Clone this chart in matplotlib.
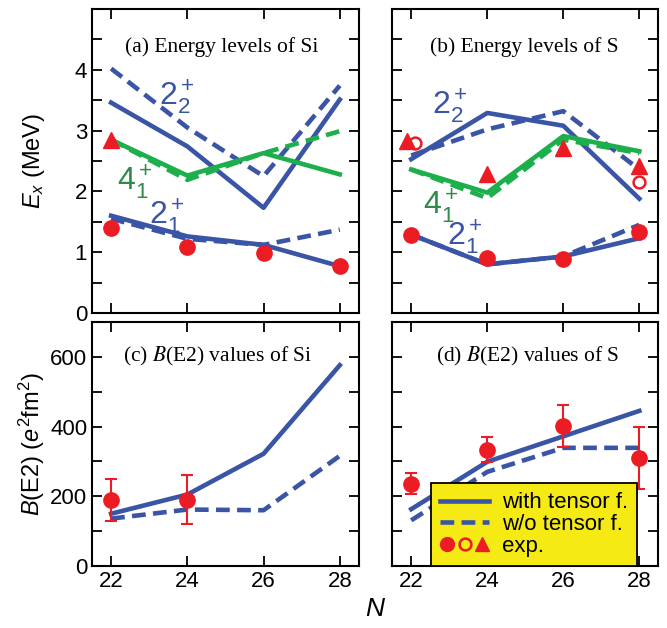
import matplotlib
matplotlib.use("Agg")
import matplotlib.pyplot as plt
from matplotlib.lines import Line2D
from matplotlib.legend_handler import HandlerTuple

N = [22, 24, 26, 28]

# (a) Si energy levels (MeV)
si_22_with = [3.46, 2.74, 1.73, 3.51]
si_22_wo = [4.02, 3.05, 2.25, 3.74]
si_41_with = [2.85, 2.26, 2.63, 2.28]
si_41_wo = [2.85, 2.19, 2.63, 2.99]
si_21_with = [1.60, 1.26, 1.12, 0.77]
si_21_wo = [1.55, 1.22, 1.12, 1.37]
si_21_exp = [1.40, 1.09, 0.98, 0.77]
si_41_exp_N = [22]
si_41_exp = [2.85]

# (b) S energy levels (MeV)
s_22_with = [2.53, 3.29, 3.08, 1.88]
s_22_wo = [2.59, 3.02, 3.32, 2.36]
s_41_with = [2.36, 1.98, 2.91, 2.66]
s_41_wo = [2.36, 1.89, 2.85, 2.63]
s_21_with = [1.29, 0.80, 0.93, 1.23]
s_21_wo = [1.29, 0.80, 0.93, 1.45]
s_21_exp = [1.29, 0.91, 0.89, 1.33]
s_41_exp_N = [21.9, 24, 26, 28]
s_41_exp = [2.83, 2.28, 2.72, 2.41]
s_22_exp_N = [22.1, 28]
s_22_exp = [2.80, 2.15]

# (c) Si B(E2) (e^2 fm^2)
si_be2_with = [150, 205, 322, 576]
si_be2_wo = [136, 162, 160, 316]
si_be2_exp_N = [22, 24]
si_be2_exp = [190, 190]
si_be2_err = [60, 70]

# (d) S B(E2)
s_be2_with = [163, 299, 372, 445]
s_be2_wo = [131, 270, 339, 339]
s_be2_exp = [236, 334, 401, 310]
s_be2_err = [30, 36, 60, 90]

blue = "#3A55A5"
green = "#1DAF4B"
green_txt = "#2E8B4A"
red = "#EC1C24"
lw = 3.3
dash = (0, (3, 1.6))

plt.rcParams["font.family"] = ["Liberation Sans", "DejaVu Sans"]
plt.rcParams["mathtext.fontset"] = "custom"
plt.rcParams["mathtext.rm"] = "Liberation Sans"
plt.rcParams["mathtext.it"] = "Liberation Sans:italic"
plt.rcParams["font.size"] = 16

fig = plt.figure(figsize=(6.67, 6.28), dpi=100)
ax_a = fig.add_axes([0.138, 0.5016, 0.400, 0.4841])
ax_b = fig.add_axes([0.588, 0.5016, 0.399, 0.4841])
ax_c = fig.add_axes([0.138, 0.0987, 0.400, 0.3886])
ax_d = fig.add_axes([0.588, 0.0987, 0.399, 0.3886])


def style(ax, ymax, major, minor, xlab, ylab):
    ax.set_xlim(21.5, 28.5)
    ax.set_ylim(0, ymax)
    ax.set_xticks(N)
    ax.set_yticks([v * major for v in range(int(ymax / major) + 1) if v * major < ymax])
    ax.set_yticks([minor * v for v in range(int(ymax / minor))], minor=True)
    ax.tick_params(which="both", direction="in", top=True, right=True,
                   length=7, width=1.3, labelsize=16)
    if not xlab:
        ax.set_xticklabels([])
    if not ylab:
        ax.set_yticklabels([])
    for s in ax.spines.values():
        s.set_linewidth(1.5)


style(ax_a, 5, 1, 0.5, False, True)
style(ax_b, 5, 1, 0.5, False, False)
style(ax_c, 700, 200, 100, True, True)
style(ax_d, 700, 200, 100, True, False)

ms = 11
tri = 11
lab = 23

# (a)
ax_a.plot(N, si_22_wo, color=blue, lw=lw, ls=dash)
ax_a.plot(N, si_22_with, color=blue, lw=lw)
ax_a.plot(N, si_41_wo, color=green, lw=lw, ls=dash)
ax_a.plot(N, si_41_with, color=green, lw=lw)
ax_a.plot(N, si_21_wo, color=blue, lw=lw, ls=dash)
ax_a.plot(N, si_21_with, color=blue, lw=lw)
ax_a.plot(N, si_21_exp, "o", color=red, ms=ms, clip_on=False)
ax_a.plot(si_41_exp_N, si_41_exp, "^", color=red, ms=tri, clip_on=False)
ax_a.text(23.25, 3.55, r"$2^+_2$", color=blue, fontsize=lab, va="center")
ax_a.text(22.15, 2.15, r"$4^+_1$", color=green_txt, fontsize=lab, va="center")
ax_a.text(23.0, 1.6, r"$2^+_1$", color=blue, fontsize=lab, va="center")
ax_a.text(0.487, 0.875, "(a) Energy levels of Si", transform=ax_a.transAxes,
          ha="center", va="center", family="Liberation Serif", fontsize=15.5)
ax_a.set_ylabel(r"$E_x$ (MeV)", fontsize=17)

# (b)
ax_b.plot(N, s_22_wo, color=blue, lw=lw, ls=dash)
ax_b.plot(N, s_22_with, color=blue, lw=lw)
ax_b.plot(N, s_41_wo, color=green, lw=lw, ls=dash)
ax_b.plot(N, s_41_with, color=green, lw=lw)
ax_b.plot(N, s_21_wo, color=blue, lw=lw, ls=dash)
ax_b.plot(N, s_21_with, color=blue, lw=lw)
ax_b.plot(N, s_21_exp, "o", color=red, ms=ms, clip_on=False)
ax_b.plot(s_41_exp_N, s_41_exp, "^", color=red, ms=tri, clip_on=False)
ax_b.plot(s_22_exp_N, s_22_exp, "o", mfc="none", mec=red, mew=1.8, ms=8.5, clip_on=False)
ax_b.text(22.55, 3.4, r"$2^+_2$", color=blue, fontsize=lab, va="center")
ax_b.text(22.3, 1.75, r"$4^+_1$", color=green_txt, fontsize=lab, va="center")
ax_b.text(22.95, 1.25, r"$2^+_1$", color=blue, fontsize=lab, va="center")
ax_b.text(0.496, 0.875, "(b) Energy levels of S", transform=ax_b.transAxes,
          ha="center", va="center", family="Liberation Serif", fontsize=15.5)

# (c)
ax_c.plot(N, si_be2_wo, color=blue, lw=lw, ls=dash)
ax_c.plot(N, si_be2_with, color=blue, lw=lw)
ax_c.errorbar(si_be2_exp_N, si_be2_exp, yerr=si_be2_err, fmt="o", color=red,
              ms=ms, elinewidth=1.5, capsize=4, capthick=1.5)
ax_c.text(0.47, 0.857, r"(c) $B$(E2) values of Si", transform=ax_c.transAxes,
          ha="center", va="center", family="Liberation Serif", fontsize=15.5,
          math_fontfamily="stix")
ax_c.set_ylabel(r"$B$(E2) ($e^2$fm$^2$)", fontsize=17)
ax_c.yaxis.set_label_coords(-0.17, 0.5)
ax_a.yaxis.set_label_coords(-0.17, 0.5)

# (d)
ax_d.plot(N, s_be2_wo, color=blue, lw=lw, ls=dash)
ax_d.plot(N, s_be2_with, color=blue, lw=lw)
ax_d.errorbar(N, s_be2_exp, yerr=s_be2_err, fmt="o", color=red,
              ms=ms, elinewidth=1.5, capsize=4, capthick=1.5)
ax_d.text(0.507, 0.857, r"(d) $B$(E2) values of S", transform=ax_d.transAxes,
          ha="center", va="center", family="Liberation Serif", fontsize=15.5,
          math_fontfamily="stix")

h_with = Line2D([], [], color=blue, lw=lw)
h_wo = Line2D([], [], color=blue, lw=lw, ls=dash)
h_exp = (Line2D([], [], ls="none", marker="o", color=red, ms=10),
         Line2D([], [], ls="none", marker="o", mfc="none", mec=red, mew=1.8, ms=8.5),
         Line2D([], [], ls="none", marker="^", color=red, ms=10))
leg = ax_d.legend([h_with, h_wo, h_exp], ["with tensor f.", "w/o tensor f.", "exp."],
                  handler_map={tuple: HandlerTuple(ndivide=None, pad=0.15)},
                  loc="lower left", bbox_to_anchor=(0.147, 0.0), fontsize=16,
                  frameon=True, fancybox=False, framealpha=1, facecolor="#F5EA14",
                  edgecolor="black", handlelength=2.2, handletextpad=0.6,
                  labelspacing=0.04, borderpad=0.4, borderaxespad=0)
leg.get_frame().set_linewidth(1.3)
leg.set_zorder(5)

fig.text(0.5625, 0.03, r"$N$", fontsize=19, ha="center", va="center")

fig.savefig("out.png", dpi=100)
